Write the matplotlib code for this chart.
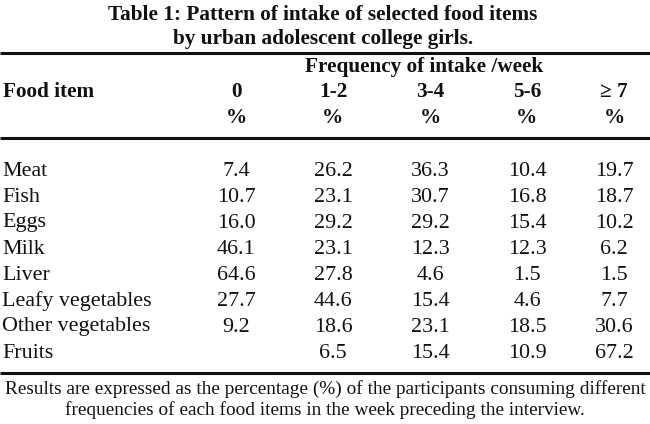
import matplotlib.pyplot as plt

TITLE_LINES = [
    "Table 1: Pattern of intake of selected food items",
    "by urban adolescent college girls.",
]
GROUP_HEADER = "Frequency of intake /week"
STUB_HEADER = "Food item"
FREQ_LABELS = ["0", "1-2", "3-4", "5-6", "\u2265 7"]
UNIT_LABELS = ["%", "%", "%", "%", "%"]
FOOD_ITEMS = [
    "Meat", "Fish", "Eggs", "Milk", "Liver",
    "Leafy vegetables", "Other vegetables", "Fruits",
]
PCT_0 = [7.4, 10.7, 16.0, 46.1, 64.6, 27.7, 9.2, None]
PCT_1_2 = [26.2, 23.1, 29.2, 23.1, 27.8, 44.6, 18.6, 6.5]
PCT_3_4 = [36.3, 30.7, 29.2, 12.3, 4.6, 15.4, 23.1, 15.4]
PCT_5_6 = [10.4, 16.8, 15.4, 12.3, 1.5, 4.6, 18.5, 10.9]
PCT_7_PLUS = [19.7, 18.7, 10.2, 6.2, 1.5, 7.7, 30.6, 67.2]
FOOTNOTE = [
    "Results are expressed as the percentage (%) of the participants consuming different",
    "frequencies of each food items in the week preceding the interview.",
]

W, H = 650, 424
SERIF = ["Liberation Serif", "DejaVu Serif"]
INK = "#111111"

col_x = [236, 333, 430, 527, 614]
row_y0, row_dy = 171, 26
bold_size = 15.3
body_size = 15.8

fig = plt.figure(figsize=(W / 100, H / 100), dpi=100)
ax = fig.add_axes([0, 0, 1, 1])
ax.set_xlim(0, W)
ax.set_ylim(H, 0)
ax.axis("off")

# title
for i, line in enumerate(TITLE_LINES):
    ax.text(323, 15 + i * 24, line, ha="center", va="center", fontsize=bold_size,
            fontweight="bold", family=SERIF, color=INK)

# rules
for y in (53, 138, 373):
    ax.plot([0, W], [y, y], color=INK, lw=2.2, solid_capstyle="butt")

# header
ax.text(424, 67, GROUP_HEADER, ha="center", va="center", fontsize=bold_size,
        fontweight="bold", family=SERIF, color=INK)
ax.text(3, 92, STUB_HEADER, ha="left", va="center", fontsize=bold_size,
        fontweight="bold", family=SERIF, color=INK)
for x, lab, unit in zip(col_x, FREQ_LABELS, UNIT_LABELS):
    ax.text(x, 92, lab, ha="center", va="center", fontsize=bold_size,
            fontweight="bold", family=SERIF, color=INK)
    ax.text(x, 118, unit, ha="center", va="center", fontsize=bold_size,
            fontweight="bold", family=SERIF, color=INK)

# body
columns = [PCT_0, PCT_1_2, PCT_3_4, PCT_5_6, PCT_7_PLUS]
for r, item in enumerate(FOOD_ITEMS):
    y = row_y0 + r * row_dy
    ax.text(2, y, item, ha="left", va="center", fontsize=body_size,
            family=SERIF, color=INK)
    for x, col in zip(col_x, columns):
        v = col[r]
        if v is None:
            continue
        ax.text(x, y, f"{v:.1f}", ha="center", va="center", fontsize=body_size,
                family=SERIF, color=INK)

# footnote
for i, line in enumerate(FOOTNOTE):
    ax.text(325, 389 + i * 21, line, ha="center", va="center", fontsize=13.9,
            family=SERIF, color=INK)

fig.savefig("out.png", dpi=100, facecolor="white")
